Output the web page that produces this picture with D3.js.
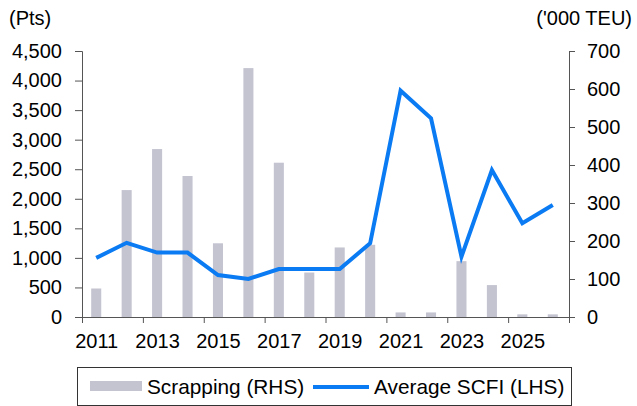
<!DOCTYPE html>
<meta charset="utf-8">
<script src="https://d3js.org/d3.v7.min.js"></script>
<style>
  body { margin: 0; background: #fff; }
  text { font-family: "Liberation Sans", Arial, sans-serif; }
</style>
<div id="my_dataviz"></div>
<script>

// data
var years = [2011, 2012, 2013, 2014, 2015, 2016, 2017, 2018, 2019, 2020, 2021, 2022, 2023, 2024, 2025, 2026];
var scrapping = [75, 334, 442, 371, 194, 655, 406, 117, 183, 190, 12, 12, 147, 84, 7, 7];   // '000 TEU (RHS)
var scfi = [1000, 1255, 1090, 1090, 710, 645, 812, 812, 812, 1247, 3828, 3361, 1020, 2487, 1585, 1895]; // pts (LHS)
var leftTicks = [0, 500, 1000, 1500, 2000, 2500, 3000, 3500, 4000, 4500];
var rightTicks = [0, 100, 200, 300, 400, 500, 600, 700];
var labelYears = [2011, 2013, 2015, 2017, 2019, 2021, 2023, 2025];

var W = 637, H = 406;
var margin = {top: 51, right: 68, bottom: 89, left: 82},
    width = W - margin.left - margin.right,
    height = H - margin.top - margin.bottom;

var svg = d3.select("#my_dataviz")
  .append("svg")
    .attr("width", W)
    .attr("height", H)
  .append("g")
    .attr("transform", "translate(" + margin.left + "," + margin.top + ")");

// scales
var x = d3.scaleBand()
  .domain(years)
  .range([0, width]);

var xEdge = d3.scaleLinear()
  .domain([2010.5, 2026.5])
  .range([0, width]);

var yL = d3.scaleLinear().domain([0, 4500]).range([height, 0]);
var yR = d3.scaleLinear().domain([0, 700]).range([height, 0]);

// bars
var barW = x.bandwidth() * 0.33;
svg.selectAll(".bar")
  .data(years)
  .enter()
  .append("rect")
    .attr("x", function(d) { return x(d) + x.bandwidth() / 2 - barW / 2 - 1; })
    .attr("y", function(d, i) { return yR(scrapping[i]); })
    .attr("width", barW)
    .attr("height", function(d, i) { return height - yR(scrapping[i]); })
    .attr("fill", "#c3c4d0");

// line
svg.append("path")
  .datum(years)
  .attr("d", d3.line()
    .x(function(d) { return x(d) + x.bandwidth() / 2 - 1; })
    .y(function(d, i) { return yL(scfi[i]); })
  )
  .attr("stroke", "#0b7bf3")
  .style("stroke-width", 4)
  .style("fill", "none");

// axes
svg.append("g")
  .call(d3.axisLeft(yL).tickValues(leftTicks).tickSize(7).tickPadding(13).tickFormat(d3.format(",")));

svg.append("g")
  .attr("transform", "translate(" + width + ",0)")
  .call(d3.axisRight(yR).tickValues(rightTicks).tickSize(6).tickPadding(12));

var edges = d3.range(2010.5, 2027, 2);
svg.append("g")
  .attr("transform", "translate(0," + height + ")")
  .call(d3.axisBottom(xEdge).tickValues(edges).tickSize(6).tickSizeOuter(0).tickFormat(""));

var bottomLabels = svg.append("g")
  .attr("transform", "translate(-1," + height + ")")
  .call(d3.axisBottom(xEdge).tickValues(labelYears).tickSize(0).tickPadding(17).tickFormat(d3.format("d")));
bottomLabels.select(".domain").remove();

svg.selectAll(".tick text")
  .style("font-size", "20px")
  .attr("fill", "#000");
svg.selectAll(".domain, .tick line")
  .attr("stroke", "#555");

// axis titles
svg.append("text")
  .attr("x", 9 - margin.left)
  .attr("y", 25 - margin.top)
  .style("font-size", "20px")
  .text("(Pts)");

svg.append("text")
  .attr("x", 632 - margin.left)
  .attr("y", 25 - margin.top)
  .attr("text-anchor", "end")
  .style("font-size", "20px")
  .text("('000 TEU)");

// legend
var legend = svg.append("g")
  .attr("transform", "translate(" + (77 - margin.left) + "," + (367 - margin.top) + ")");

legend.append("rect")
  .attr("x", 0.5).attr("y", 0.5)
  .attr("width", 494).attr("height", 38)
  .attr("fill", "#fff")
  .attr("stroke", "#333");

legend.append("rect")
  .attr("x", 13).attr("y", 14)
  .attr("width", 52).attr("height", 10)
  .attr("fill", "#c3c4d0");

legend.append("text")
  .attr("x", 70).attr("y", 27)
  .style("font-size", "20.8px")
  .text("Scrapping (RHS)");

legend.append("line")
  .attr("x1", 236).attr("x2", 292)
  .attr("y1", 20).attr("y2", 20)
  .attr("stroke", "#0b7bf3")
  .style("stroke-width", 4);

legend.append("text")
  .attr("x", 297).attr("y", 27)
  .style("font-size", "20.8px")
  .text("Average SCFI (LHS)");

</script>
